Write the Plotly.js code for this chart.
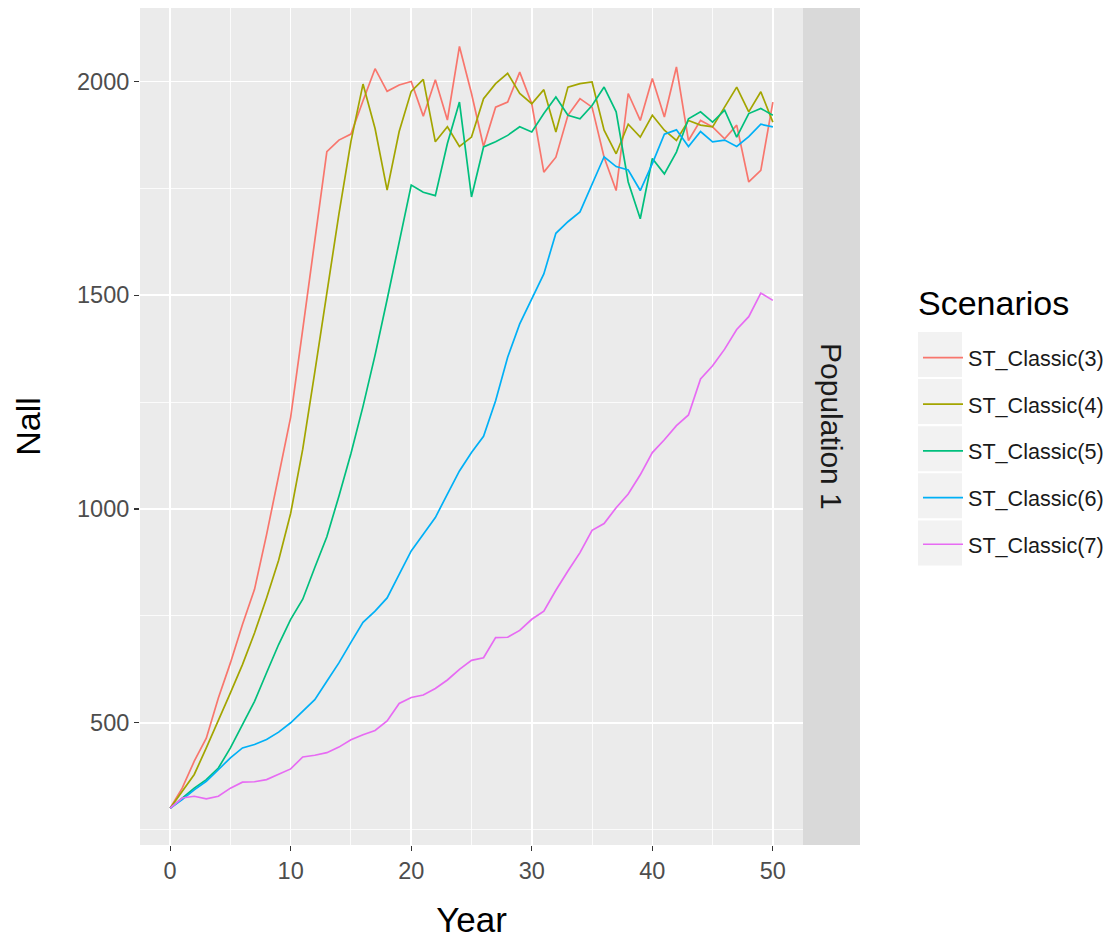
<!DOCTYPE html>
<html>
<head>
<meta charset="utf-8">
<script src="https://cdn.plot.ly/plotly-3.0.1.min.js"></script>
<style>html,body{margin:0;padding:0;background:#fff;}#chart{width:1109px;height:941px;}</style>
</head>
<body>
<div id="chart"></div>
<script>
const years = Array.from({length: 51}, (_, i) => i);
const seriesNames = ["ST_Classic(3)", "ST_Classic(4)", "ST_Classic(5)", "ST_Classic(6)", "ST_Classic(7)"];
const seriesColors = ["#F8766D", "#A3A500", "#00BF7D", "#00B0F6", "#E76BF3"];

const st3 = [300,347,410,464,558,640,730,812,940,1080,1215,1420,1625,1836,1863,1877,1955,2030,1977,1992,2000,1919,2004,1910,2082,1972,1848,1940,1952,2022,1948,1788,1823,1921,1960,1940,1823,1745,1972,1909,2007,1917,2034,1862,1909,1894,1866,1898,1765,1792,1952];
const st4 = [300,339,379,441,504,570,636,710,792,880,990,1140,1320,1510,1690,1860,1994,1890,1746,1883,1977,2005,1859,1894,1848,1870,1960,1995,2019,1972,1948,1981,1882,1987,1995,1999,1886,1831,1900,1870,1921,1886,1862,1909,1898,1894,1940,1987,1929,1976,1905];
const st5 = [300,324,347,367,394,441,496,550,617,683,742,789,863,935,1030,1130,1240,1360,1490,1620,1758,1741,1733,1855,1952,1730,1847,1859,1874,1894,1882,1925,1964,1921,1913,1944,1987,1929,1765,1679,1820,1784,1835,1913,1929,1905,1933,1870,1925,1937,1921];
const st6 = [300,320,343,363,390,418,441,449,461,478,500,527,554,597,640,688,735,761,792,847,902,941,980,1035,1089,1132,1170,1253,1355,1433,1490,1550,1645,1672,1695,1758,1824,1801,1793,1745,1808,1877,1887,1848,1883,1859,1863,1848,1871,1900,1894];
const st7 = [300,324,328,322,328,347,361,362,367,379,392,420,424,430,443,460,472,482,504,545,559,565,580,600,625,646,652,699,700,716,742,761,810,855,898,950,966,1003,1035,1080,1132,1162,1195,1220,1304,1335,1374,1420,1450,1505,1488];
const seriesValues = [st3, st4, st5, st6, st7];

const xTicks = [0, 10, 20, 30, 40, 50];
const yTicks = [500, 1000, 1500, 2000];
const panelLabel = "Population 1";
const legendTitle = "Scenarios";
const xTitle = "Year";
const yTitle = "Nall";

const FONT = "Liberation Sans, Arial, sans-serif";

const traces = seriesNames.map((name, i) => ({
  type: "scatter",
  mode: "lines",
  x: years,
  y: seriesValues[i],
  name: name,
  legendgroup: "g" + i,
  line: {color: seriesColors[i], width: 1.7},
  hoverinfo: "x+y+name"
}));

const plotW = 663;
const plotH = 837;
const stripW = 57;
const px = v => (v - 140) / plotW;        // page x -> paper x (layout helper)
const py = v => 1 - (v - 8) / plotH;      // page y -> paper y (layout helper)

// grey key boxes behind legend keys
const rowH = 47.1;
const keyShapes = seriesNames.map((n, i) => ({
  type: "rect", xref: "paper", yref: "paper",
  x0: px(918), x1: px(962),
  y0: py(332 + rowH * i + 45), y1: py(332 + rowH * i),
  fillcolor: "#F2F2F2", line: {width: 0}, layer: "below"
}));

const layout = {
  width: 1109, height: 941,
  margin: {l: 140, r: 1109 - 140 - plotW, t: 8, b: 96, pad: 0, autoexpand: false},
  paper_bgcolor: "#FFFFFF",
  plot_bgcolor: "#EBEBEB",
  font: {family: FONT, color: "#4D4D4D"},
  showlegend: true,
  legend: {
    x: px(918), xanchor: "left",
    y: py(337), yanchor: "top",
    bgcolor: "rgba(0,0,0,0)", borderwidth: 0,
    traceorder: "grouped", tracegroupgap: 15.6,
    itemwidth: 40,
    font: {family: FONT, size: 21.6, color: "#1A1A1A"}
  },
  xaxis: {
    range: [-2.5, 52.5], tickvals: xTicks, ticktext: xTicks.map(String),
    ticks: "outside", ticklen: 5, tickwidth: 1.2, tickcolor: "#333333",
    showgrid: true, gridcolor: "#FFFFFF", gridwidth: 1.6,
    minor: {dtick: 5, tick0: 0, showgrid: true, gridcolor: "#FFFFFF", gridwidth: 0.8, ticks: ""},
    zeroline: false, showline: false, automargin: false,
    tickfont: {family: FONT, size: 23.5, color: "#4D4D4D"},
    title: {text: xTitle, font: {family: FONT, size: 35, color: "#000000"}, standoff: 24}
  },
  yaxis: {
    range: [214, 2172], tickvals: yTicks, ticktext: yTicks.map(String),
    ticks: "outside", ticklen: 5, tickwidth: 1.2, tickcolor: "#333333",
    showgrid: true, gridcolor: "#FFFFFF", gridwidth: 1.6,
    minor: {dtick: 250, tick0: 0, showgrid: true, gridcolor: "#FFFFFF", gridwidth: 0.8, ticks: ""},
    zeroline: false, showline: false, automargin: false,
    tickfont: {family: FONT, size: 23.5, color: "#4D4D4D"},
    title: {text: yTitle, font: {family: FONT, size: 34, color: "#000000"}, standoff: 26}
  },
  shapes: [
    {type: "rect", xref: "paper", yref: "paper", x0: 1, x1: 1 + stripW / plotW, y0: 0, y1: 1,
     fillcolor: "#D9D9D9", line: {width: 0}, layer: "above"}
  ].concat(keyShapes),
  annotations: [
    {text: panelLabel, xref: "paper", yref: "paper", x: 1 + stripW / 2 / plotW, y: 0.5,
     showarrow: false, textangle: 90, font: {family: FONT, size: 30, color: "#1A1A1A"},
     xanchor: "center", yanchor: "middle"},
    {text: legendTitle, xref: "paper", yref: "paper", x: px(916), y: py(303),
     showarrow: false, font: {family: FONT, size: 34, color: "#000000"},
     xanchor: "left", yanchor: "middle"}
  ]
};

Plotly.newPlot("chart", traces, layout, {displayModeBar: false, staticPlot: true});
</script>
</body>
</html>
